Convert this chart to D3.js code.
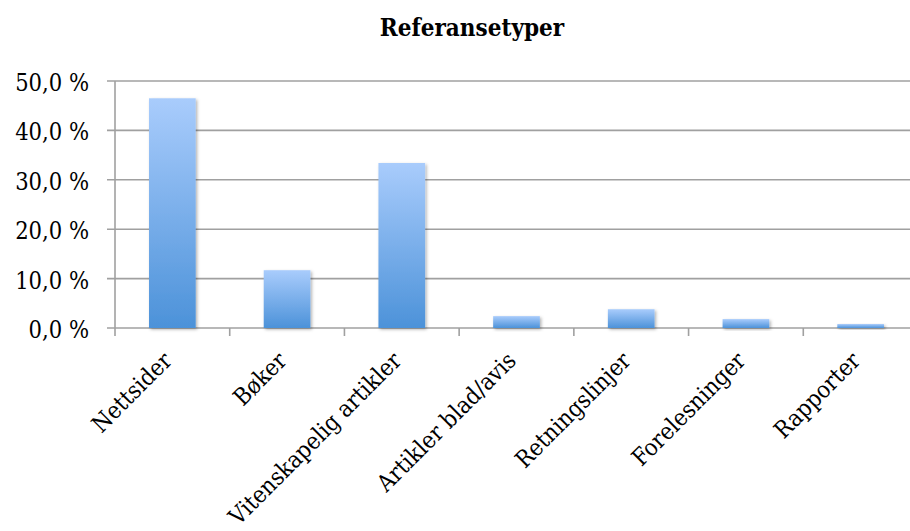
<!DOCTYPE html>
<html><head><meta charset="utf-8">
<script src="https://cdn.jsdelivr.net/npm/d3@7/dist/d3.min.js"></script>
<style>body{margin:0;background:#fff}svg{display:block}text{font-family:"DejaVu Serif Condensed","DejaVu Serif",serif;font-stretch:condensed;fill:#000}</style>
</head><body>
<svg id="c" width="910" height="531"></svg>
<script>
const categories = ["Nettsider","Bøker","Vitenskapelig artikler","Artikler blad/avis","Retningslinjer","Forelesninger","Rapporter"];
const values = [46.5, 11.7, 33.4, 2.4, 3.8, 1.8, 0.8];
const yTicks = [0, 10, 20, 30, 40, 50];
const title = "Referansetyper";

(function(){
const svg = d3.select("#c");
const pl = 115, pr = 918, pt = 81, pb = 328;
const x = d3.scaleBand().domain(categories).range([pl, pr]).paddingInner(0.593).paddingOuter(0.2965);
const y = d3.scaleLinear().domain([0, 50]).range([pb, pt]);

const defs = svg.append("defs");
const g = defs.append("linearGradient").attr("id","bg").attr("x1",0).attr("y1",0).attr("x2",0).attr("y2",1);
g.append("stop").attr("offset","0%").attr("stop-color","#a9ccfc");
g.append("stop").attr("offset","100%").attr("stop-color","#4c92d9");
const f = defs.append("filter").attr("id","sh").attr("x","-20%").attr("y","-20%").attr("width","150%").attr("height","150%");
f.append("feDropShadow").attr("dx",1.5).attr("dy",1.5).attr("stdDeviation",1.8).attr("flood-color","#000").attr("flood-opacity",0.3);

svg.append("g").selectAll("line").data(yTicks).join("line")
  .attr("x1", pl - 8).attr("x2", 910).attr("y1", d => y(d)).attr("y2", d => y(d))
  .attr("stroke", "#a0a0a0").attr("stroke-width", 1.6);

svg.append("line").attr("x1", pl).attr("x2", pl).attr("y1", pt).attr("y2", pb + 8)
  .attr("stroke", "#a0a0a0").attr("stroke-width", 1.6);

const step = x.step();
const bounds = d3.range(1, categories.length).map(i => pl + i * step);
svg.append("g").selectAll("line").data(bounds).join("line")
  .attr("x1", d => d).attr("x2", d => d).attr("y1", pb).attr("y2", pb + 8)
  .attr("stroke", "#a0a0a0").attr("stroke-width", 1.6);

svg.append("g").selectAll("rect").data(values).join("rect")
  .attr("x", (d, i) => x(categories[i])).attr("width", x.bandwidth())
  .attr("y", d => y(d)).attr("height", d => pb - y(d))
  .attr("fill", "url(#bg)").attr("filter", "url(#sh)");

svg.append("g").selectAll("text").data(yTicks).join("text")
  .attr("x", 89).attr("y", d => y(d) + 10).attr("text-anchor", "end")
  .attr("font-size", 23.5).text(d => d.toFixed(1).replace(".", ",") + " %");

svg.append("g").selectAll("text").data(categories).join("text")
  .attr("transform", d => `translate(${x(d) + x.bandwidth()/2 + 1},${pb + 34}) rotate(-45)`)
  .attr("text-anchor", "end").attr("font-size", 23.5).text(d => d);

svg.append("text").attr("x", 472).attr("y", 36).attr("text-anchor", "middle")
  .attr("font-size", 24).attr("font-weight", "bold").text(title);
})();
</script>
</body></html>
